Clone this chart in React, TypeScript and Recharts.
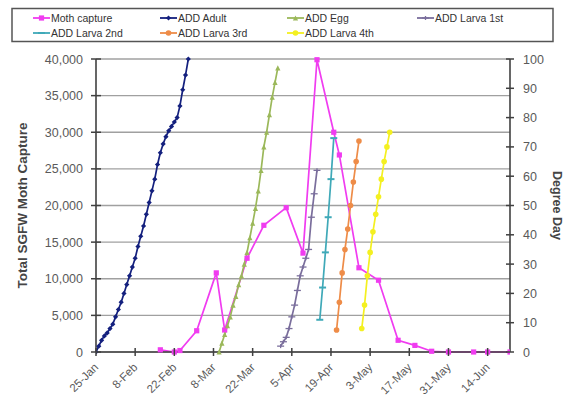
import React from 'react'
import { LineChart, Line, XAxis, YAxis, CartesianGrid } from 'recharts'

// x values are days counted from 25-Jan
const xTicks = [0, 14, 28, 42, 56, 70, 84, 98, 112, 126, 140]
const xTickLabels = ['25-Jan', '8-Feb', '22-Feb', '8-Mar', '22-Mar', '5-Apr', '19-Apr', '3-May', '17-May', '31-May', '14-Jun']
const captureTicks = [0, 5000, 10000, 15000, 20000, 25000, 30000, 35000, 40000]
const degreeTicks = [0, 10, 20, 30, 40, 50, 60, 70, 80, 90, 100]

const mothDays = [23, 28, 30, 36, 43, 46, 54, 60, 68, 74, 79, 85, 87, 94, 101, 108, 114, 120, 126, 135, 140, 148]
const mothCapture = [300, 0, 200, 2900, 10800, 3000, 12800, 17300, 19700, 13500, 39900, 30000, 26900, 11500, 9800, 1600, 900, 100, 0, 0, 0, 0]

const adultDays = [0, 1, 2, 3, 4, 5, 6, 7, 8, 9, 10, 11, 12, 13, 14, 15, 16, 17, 18, 19, 20, 21, 22, 23, 24, 25, 26, 27, 28, 29, 30, 31, 32, 33]
const addAdult = [0, 2, 4, 5.5, 6.5, 8, 9.5, 12, 14.5, 17, 20, 23, 26, 29, 32, 36, 39.5, 43, 47, 51, 55, 59, 64, 68, 71, 73.5, 75.5, 77, 78.5, 80, 84, 89.5, 94.5, 100]

const eggDays = [44, 45, 46, 47, 48, 49, 50, 51, 52, 53, 54, 55, 56, 57, 58, 59, 60, 61, 62, 63, 64, 65]
const addEgg = [0, 3, 6, 9, 12, 16, 19, 23, 26, 30, 34, 39, 44, 49, 55, 62, 70, 75, 81, 87, 92, 97]

const larva1Days = [66, 67, 68, 69, 70, 71, 72, 73, 74, 75, 76, 77, 78, 79]
const addLarva1 = [2, 3.5, 5, 8, 12, 16, 21, 26, 29, 32, 35, 46, 54, 62]

const larva2Days = [80, 81, 82, 83, 84, 85]
const addLarva2 = [11, 22, 34, 46, 59, 73]

const larva3Days = [86, 87, 88, 89, 90, 91, 92, 93, 94]
const addLarva3 = [7.5, 17, 27, 35, 42, 50, 58, 65, 72]

const larva4Days = [95, 96, 97, 98, 99, 100, 101, 102, 103, 104, 105]
const addLarva4 = [8, 16, 26, 34, 41, 47, 53, 59, 65, 70, 75]

const zip = (days: number[], vals: number[]) => days.map((d, i) => ({ day: d, v: vals[i] }))

type Kind = 'square' | 'diamond' | 'triangle' | 'plus' | 'dash' | 'circle'

const series = [
  { name: 'Moth capture', data: zip(mothDays, mothCapture), color: '#f03cf0', kind: 'square' as Kind, axis: 'left' },
  { name: 'ADD Adult', data: zip(adultDays, addAdult), color: '#14207e', kind: 'diamond' as Kind, axis: 'right' },
  { name: 'ADD Egg', data: zip(eggDays, addEgg), color: '#9bb85a', kind: 'triangle' as Kind, axis: 'right' },
  { name: 'ADD Larva 1st', data: zip(larva1Days, addLarva1), color: '#7a6e9c', kind: 'plus' as Kind, axis: 'right' },
  { name: 'ADD Larva 2nd', data: zip(larva2Days, addLarva2), color: '#3fa9b8', kind: 'dash' as Kind, axis: 'right' },
  { name: 'ADD Larva 3rd', data: zip(larva3Days, addLarva3), color: '#ee8c48', kind: 'circle' as Kind, axis: 'right' },
  { name: 'ADD Larva 4th', data: zip(larva4Days, addLarva4), color: '#f4f020', kind: 'circle' as Kind, axis: 'right' },
]

const font = '"Liberation Sans", Arial, sans-serif'
const tickColor = '#5a5a5a'

function Mark({ kind, cx, cy, color }: { kind: Kind; cx: number; cy: number; color: string }) {
  if (cx == null || cy == null) return null
  const s = 2.6
  switch (kind) {
    case 'square':
      return <rect x={cx - s} y={cy - s} width={s * 2} height={s * 2} fill={color} />
    case 'diamond':
      return <path d={`M${cx},${cy - s}L${cx + s},${cy}L${cx},${cy + s}L${cx - s},${cy}Z`} fill={color} />
    case 'triangle':
      return <path d={`M${cx},${cy - s}L${cx + s},${cy + s}L${cx - s},${cy + s}Z`} fill={color} />
    case 'plus':
      return (
        <g stroke={color} strokeWidth={1.3}>
          <line x1={cx - 3.5} y1={cy} x2={cx + 3.5} y2={cy} />
          <line x1={cx} y1={cy - 2} x2={cx} y2={cy + 2} />
        </g>
      )
    case 'dash':
      return <line x1={cx - 3.5} y1={cy} x2={cx + 3.5} y2={cy} stroke={color} strokeWidth={2} />
    default:
      return <circle cx={cx} cy={cy} r={2.8} fill={color} />
  }
}

const dotFor = (kind: Kind, color: string) => (p: any) => (
  <Mark key={`${kind}-${p.index}`} kind={kind} cx={p.cx} cy={p.cy} color={color} />
)

function LeftTick({ x, y, payload }: any) {
  return (
    <g>
      <line x1={x - 5} y1={y} x2={x + 5} y2={y} stroke="#404040" strokeWidth={1.5} />
      <text x={x - 13} y={y + 4.5} textAnchor="end" fontSize={12.5} fill={tickColor} fontFamily={font}>
        {payload.value.toLocaleString('en-US')}
      </text>
    </g>
  )
}

function RightTick({ x, y, payload }: any) {
  return (
    <g>
      <line x1={x - 4} y1={y} x2={x + 4} y2={y} stroke="#404040" strokeWidth={1.5} />
      <text x={x + 13} y={y + 4.5} textAnchor="start" fontSize={12.5} fill={tickColor} fontFamily={font}>
        {payload.value}
      </text>
    </g>
  )
}

function BottomTick({ x, y, payload }: any) {
  const label = xTickLabels[xTicks.indexOf(payload.value)]
  const ax = x + 3
  const ay = y + 16
  return (
    <g>
      <line x1={x} y1={y - 4} x2={x} y2={y + 4} stroke="#404040" strokeWidth={1.5} />
      <text
        x={ax}
        y={ay}
        textAnchor="end"
        fontSize={11.5}
        fill={tickColor}
        fontFamily={font}
        transform={`rotate(-45 ${ax} ${ay})`}
      >
        {label}
      </text>
    </g>
  )
}

const legendCols = [33, 160, 287, 417]
const legendRows = [18, 33]

function LegendBox() {
  return (
    <svg width={563} height={45} style={{ position: 'absolute', left: 0, top: 0 }}>
      <rect x={12} y={8.5} width={541} height={33} fill="none" stroke="#555" strokeWidth={1.5} />
      {series.map((s, i) => {
        const x = legendCols[i % 4]
        const y = legendRows[Math.floor(i / 4)]
        return (
          <g key={s.name}>
            <line x1={x} y1={y} x2={x + 17} y2={y} stroke={s.color} strokeWidth={1.8} />
            <Mark kind={s.kind} cx={x + 8.5} cy={y} color={s.color} />
            <text x={x + 18} y={y + 3.8} fontSize={10.5} fill="#333" fontFamily={font}>
              {s.name}
            </text>
          </g>
        )
      })}
    </svg>
  )
}

export default function App() {
  return (
    <div style={{ position: 'absolute', left: 0, top: 0, width: 563, height: 399, background: '#fff' }}>
      <LineChart width={563} height={399} margin={{ top: 59, right: 0, bottom: 0, left: 0 }}>
        <CartesianGrid horizontal vertical={false} yAxisId="left" stroke="#a0a0a0" strokeWidth={1.4} />
        <XAxis
          xAxisId={0}
          dataKey="day"
          type="number"
          domain={[0, 148]}
          ticks={xTicks}
          interval={0}
          height={47}
          tickSize={0}
          tickMargin={0}
          tickLine={false}
          axisLine={{ stroke: '#404040', strokeWidth: 1.6 }}
          tick={<BottomTick />}
          allowDataOverflow
        />
        <YAxis
          yAxisId="left"
          orientation="left"
          width={96}
          domain={[0, 40000]}
          ticks={captureTicks}
          interval={0}
          tickSize={0}
          tickMargin={0}
          tickLine={false}
          axisLine={{ stroke: '#404040', strokeWidth: 1.6 }}
          tick={<LeftTick />}
          label={{
            value: 'Total SGFW Moth Capture',
            angle: -90,
            position: 'center',
            dx: -26,
            style: { fontSize: 13.5, fontWeight: 'bold', fill: '#454545', fontFamily: font },
          }}
        />
        <YAxis
          yAxisId="right"
          orientation="right"
          width={53}
          domain={[0, 100]}
          ticks={degreeTicks}
          interval={0}
          tickSize={0}
          tickMargin={0}
          tickLine={false}
          axisLine={{ stroke: '#404040', strokeWidth: 1.6 }}
          tick={<RightTick />}
          label={{
            value: 'Degree Day',
            angle: 90,
            position: 'center',
            dx: 21,
            style: { fontSize: 12.5, fontWeight: 'bold', fill: '#454545', fontFamily: font },
          }}
        />
        {series.map(s => (
          <Line
            key={s.name}
            data={s.data}
            dataKey="v"
            name={s.name}
            yAxisId={s.axis}
            type="linear"
            stroke={s.color}
            strokeWidth={1.7}
            dot={dotFor(s.kind, s.color)}
            activeDot={false}
            isAnimationActive={false}
          />
        ))}
      </LineChart>
      <LegendBox />
    </div>
  )
}
